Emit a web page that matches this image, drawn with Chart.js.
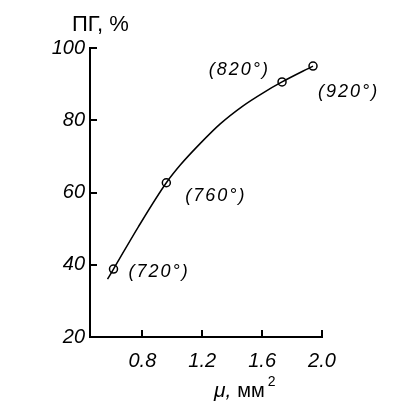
<!DOCTYPE html>
<html>
<head>
<meta charset="utf-8">
<script src="https://cdn.jsdelivr.net/npm/chart.js@4/dist/chart.umd.min.js"></script>
<style>
  html, body { margin: 0; padding: 0; background: #fff; }
  #wrap { width: 398px; height: 407px; }
</style>
</head>
<body>
<div id="wrap"><canvas id="grafico" width="398" height="407"></canvas></div>
<script>
// curve
const curvaX = [0.567, 0.607, 0.773, 0.96, 1.053, 1.187, 1.32, 1.473, 1.607, 1.733, 1.94];
const curvaY = [36.0, 38.8, 50.5, 62.7, 67.6, 73.6, 79.0, 84.0, 87.6, 90.6, 95.0];

// marked points and their temperatures
const pontosX = [0.607, 0.96, 1.733, 1.94];
const pontosY = [38.8, 62.7, 90.6, 95.0];
const temperaturas = ['(720°)', '(760°)', '(820°)', '(920°)'];

const ticksX = [0.8, 1.2, 1.6, 2.0];
const ticksY = [20, 40, 60, 80, 100];

// label placement next to each point (dx, dy, align)
const posRotulo = [[15, 3, 'left'], [19, 13, 'left'], [-12, -12, 'right'], [5, 26, 'left']];

// ticks pointing into the plot + titles + point labels
const extras = {
  id: 'extras',
  afterDraw(chart) {
    const ctx = chart.ctx;
    const x = chart.scales.x, y = chart.scales.y;
    const a = chart.chartArea;
    ctx.save();
    ctx.strokeStyle = '#000';
    ctx.lineWidth = 2;
    ticksY.forEach(v => {
      const py = Math.round(y.getPixelForValue(v));
      ctx.beginPath(); ctx.moveTo(a.left, py); ctx.lineTo(a.left + 7, py); ctx.stroke();
    });
    ticksX.forEach(v => {
      const px = Math.round(x.getPixelForValue(v));
      ctx.beginPath(); ctx.moveTo(px, a.bottom); ctx.lineTo(px, a.bottom - 7); ctx.stroke();
    });

    ctx.fillStyle = '#000';
    ctx.textBaseline = 'middle';
    // y title
    ctx.font = '22px "Liberation Sans", Arial, sans-serif';
    ctx.textAlign = 'left';
    ctx.fillText('ПГ, %', 72, 25);

    // x title
    ctx.font = 'italic 21px "Liberation Sans", Arial, sans-serif';
    ctx.fillText('μ,', 214, 391);
    let w = ctx.measureText('μ, ').width;
    ctx.font = '20px "Liberation Sans", Arial, sans-serif';
    ctx.fillText('мм', 214 + w, 391);
    const w2 = ctx.measureText('мм').width;
    ctx.font = '14px "Liberation Sans", Arial, sans-serif';
    ctx.fillText('2', 214 + w + w2 + 3, 382);

    // point labels
    ctx.font = 'italic 18px "Liberation Sans", Arial, sans-serif';
    ctx.letterSpacing = '2px';
    temperaturas.forEach((t, i) => {
      const px = x.getPixelForValue(pontosX[i]);
      const py = y.getPixelForValue(pontosY[i]);
      const [dx, dy, al] = posRotulo[i];
      ctx.textAlign = al;
      ctx.fillText(t, px + dx, py + dy);
    });
    ctx.restore();
  }
};

const ctx = document.getElementById('grafico').getContext('2d');
const grafico = new Chart(ctx, {
  type: 'scatter',
  data: {
    datasets: [
      {
        data: curvaX.map((v, i) => ({ x: v, y: curvaY[i] })),
        showLine: true,
        borderColor: '#000',
        borderWidth: 1.5,
        pointRadius: 0,
        cubicInterpolationMode: 'monotone'
      },
      {
        data: pontosX.map((v, i) => ({ x: v, y: pontosY[i] })),
        showLine: false,
        pointRadius: 4,
        pointBackgroundColor: '#fff',
        pointBorderColor: '#000',
        pointBorderWidth: 1.5
      }
    ]
  },
  options: {
    responsive: false,
    animation: false,
    layout: { padding: { top: 48, right: 76, left: 0, bottom: 0 } },
    plugins: { legend: { display: false }, tooltip: { enabled: false } },
    scales: {
      x: {
        type: 'linear',
        min: 0.45,
        max: 2.0,
        afterBuildTicks: s => { s.ticks = ticksX.map(v => ({ value: v })); },
        afterFit: s => { s.height = 70; },
        grid: { display: false, drawTicks: false },
        border: { display: true, color: '#000', width: 2 },
        ticks: {
          padding: 12,
          color: '#000',
          font: { family: '"Liberation Sans", Arial, sans-serif', size: 20, style: 'italic' },
          callback: v => v.toFixed(1)
        }
      },
      y: {
        min: 20,
        max: 100,
        afterBuildTicks: s => { s.ticks = ticksY.map(v => ({ value: v })); },
        afterFit: s => { s.width = 90; },
        grid: { display: false, drawTicks: false },
        border: { display: true, color: '#000', width: 2 },
        ticks: {
          padding: 5,
          color: '#000',
          font: { family: '"Liberation Sans", Arial, sans-serif', size: 20, style: 'italic' }
        }
      }
    }
  },
  plugins: [extras]
});
</script>
</body>
</html>
